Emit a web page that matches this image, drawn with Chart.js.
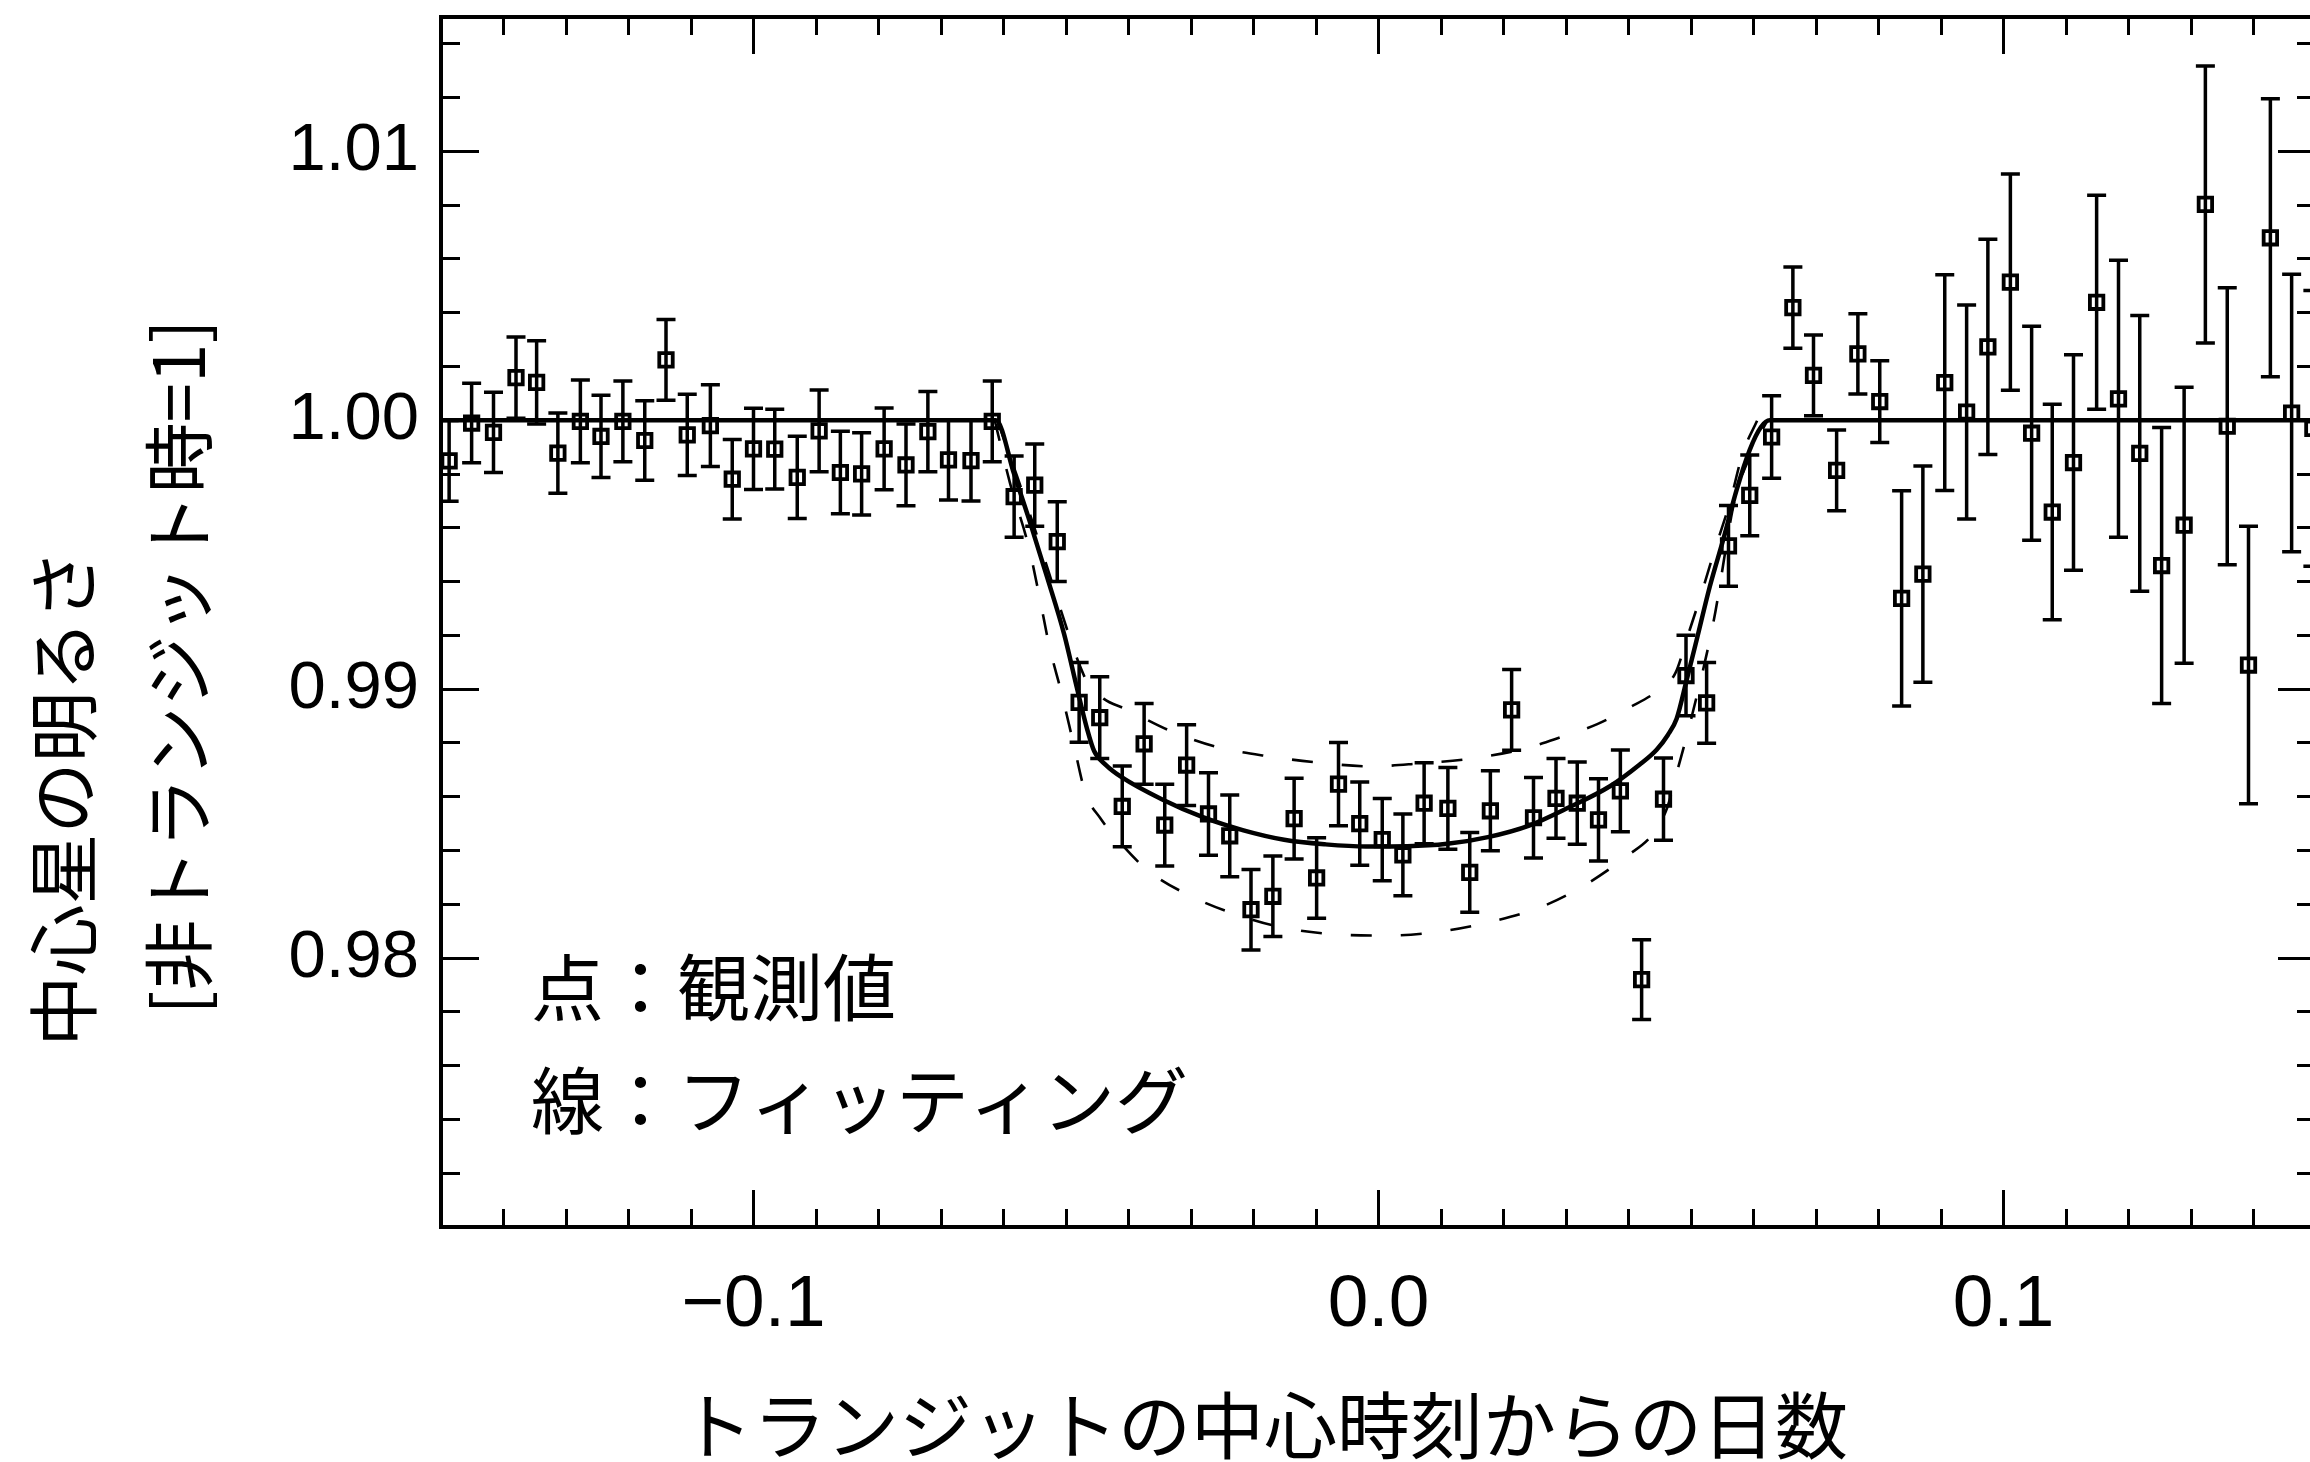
<!DOCTYPE html>
<html lang="ja">
<head>
<meta charset="utf-8">
<script src="https://cdn.jsdelivr.net/npm/chart.js@4/dist/chart.umd.min.js"></script>
<style>
  html, body { margin: 0; padding: 0; background: #fff; overflow: hidden; }
  #wrap { position: relative; width: 2330px; height: 1462px; }
</style>
</head>
<body>
<div id="wrap"><canvas id="lc"></canvas></div>
<script>
// ---- observed relative brightness (days from mid-transit) ----
const obsX = [
  -0.1487, -0.1451, -0.1416, -0.1380, -0.1347, -0.1313, -0.1277, -0.1244, -0.1209, -0.1174,
  -0.1140, -0.1106, -0.1069, -0.1034, -0.1000, -0.0966, -0.0930, -0.0895, -0.0861, -0.0827,
  -0.0791, -0.0756, -0.0721, -0.0688, -0.0652, -0.0618, -0.0583, -0.0550, -0.0514, -0.0479,
  -0.0446, -0.0410, -0.0375, -0.0342, -0.0307, -0.0272, -0.0238, -0.0204, -0.0169, -0.0135,
  -0.0099, -0.0064, -0.0030,  0.0006,  0.0039,  0.0073,  0.0111,  0.0146,  0.0179,  0.0213,
   0.0248,  0.0284,  0.0318,  0.0352,  0.0387,  0.0421,  0.0456,  0.0492,  0.0525,  0.0560,
   0.0594,  0.0629,  0.0663,  0.0696,  0.0733,  0.0767,  0.0802,  0.0837,  0.0871,  0.0906,
   0.0941,  0.0975,  0.1011,  0.1045,  0.1078,  0.1112,  0.1149,  0.1184,  0.1218,  0.1253,
   0.1289,  0.1323,  0.1358,  0.1392,  0.1427,  0.1461,  0.1495
];
const obsY = [
  0.99849, 0.99990, 0.99955, 1.00159, 1.00141, 0.99878, 0.99996, 0.99940, 0.99996, 0.99925,
  1.00225, 0.99946, 0.99980, 0.99781, 0.99894, 0.99893, 0.99788, 0.99961, 0.99806, 0.99801,
  0.99894, 0.99834, 0.99958, 0.99853, 0.99850, 0.99996, 0.99716, 0.99759, 0.99549, 0.98951,
  0.98894, 0.98564, 0.98797, 0.98495, 0.98718, 0.98536, 0.98455, 0.98180, 0.98230, 0.98519,
  0.98298, 0.98647, 0.98500, 0.98441, 0.98384, 0.98576, 0.98557, 0.98319, 0.98548, 0.98923,
  0.98522, 0.98594, 0.98576, 0.98514, 0.98622, 0.97920, 0.98591, 0.99051, 0.98949, 0.99533,
  0.99721, 0.99938, 1.00419, 1.00167, 0.99814, 1.00247, 1.00070, 0.99338, 0.99428, 1.00140,
  1.00031, 1.00273, 1.00514, 0.99952, 0.99659, 0.99843, 1.00439, 1.00080, 0.99877, 0.99460,
  0.99610, 1.00803, 0.99978, 0.99090, 1.00679, 1.00027, 0.99970
];
const obsErr = [
  0.00150, 0.00148, 0.00149, 0.00151, 0.00155, 0.00149, 0.00154, 0.00153, 0.00150, 0.00148,
  0.00150, 0.00151, 0.00152, 0.00148, 0.00151, 0.00148, 0.00153, 0.00152, 0.00153, 0.00153,
  0.00152, 0.00152, 0.00149, 0.00149, 0.00150, 0.00150, 0.00151, 0.00153, 0.00148, 0.00148,
  0.00152, 0.00150, 0.00150, 0.00152, 0.00150, 0.00153, 0.00152, 0.00150, 0.00150, 0.00150,
  0.00150, 0.00155, 0.00155, 0.00153, 0.00152, 0.00151, 0.00152, 0.00148, 0.00149, 0.00150,
  0.00150, 0.00148, 0.00153, 0.00153, 0.00152, 0.00148, 0.00153, 0.00150, 0.00150, 0.00150,
  0.00150, 0.00153, 0.00151, 0.00150, 0.00150, 0.00149, 0.00152, 0.00400, 0.00402, 0.00401,
  0.00398, 0.00400, 0.00402, 0.00398, 0.00401, 0.00401, 0.00398, 0.00515, 0.00513, 0.00513,
  0.00513, 0.00515, 0.00515, 0.00516, 0.00517, 0.00516, 0.00513
];

// ---- best-fit transit model (solid) ----
const fitX = [
  -0.1500, -0.0612, -0.0583, -0.0557, -0.0530, -0.0503, -0.0482, -0.0466, -0.0455, -0.0436,
  -0.0411, -0.0346, -0.0281, -0.0216, -0.0151, -0.0085, -0.0020,  0.0046,  0.0110,  0.0175,
   0.0241,  0.0306,  0.0371,  0.0418,  0.0445,  0.0463,  0.0477,  0.0493,  0.0509,  0.0530,
   0.0552,  0.0573,  0.0594,  0.0612,  0.0626,  0.1500
];
const fitY = [
  1.00000, 1.00000, 0.99800, 0.99617, 0.99415, 0.99205, 0.99000, 0.98850, 0.98770, 0.98718,
  0.98673, 0.98590, 0.98524, 0.98475, 0.98440, 0.98423, 0.98415, 0.98416, 0.98425, 0.98450,
  0.98493, 0.98562, 0.98640, 0.98720, 0.98775, 0.98830, 0.98890, 0.99034, 0.99183, 0.99381,
  0.99560, 0.99741, 0.99890, 0.99975, 1.00000, 1.00000
];

// ---- shallower model (dashed) ----
const fitHighX = [
  -0.0610, -0.0578, -0.0545, -0.0520, -0.0497, -0.0480, -0.0466, -0.0440, -0.0405, -0.0333,
  -0.0258, -0.0175, -0.0096, -0.0012,  0.0065,  0.0148,  0.0230,  0.0292,  0.0350,  0.0400,
   0.0450,  0.0475,  0.0495,  0.0514,  0.0538,  0.0562,  0.0583,  0.0606
];
const fitHighY = [
  1.00000, 0.99790, 0.99561, 0.99380, 0.99213, 0.99100, 0.99027, 0.98965, 0.98927, 0.98845,
  0.98785, 0.98750, 0.98727, 0.98713, 0.98724, 0.98742, 0.98777, 0.98822, 0.98870, 0.98930,
  0.99000, 0.99060, 0.99200, 0.99336, 0.99518, 0.99693, 0.99879, 1.00000
];

// ---- deeper model (dashed) ----
const fitLowX = [
  -0.0614, -0.0590, -0.0559, -0.0543, -0.0527, -0.0507, -0.0488, -0.0469, -0.0445, -0.0420,
  -0.0369, -0.0299, -0.0231, -0.0150, -0.0066,  0.0019,  0.0100,  0.0182,  0.0259,  0.0329,
   0.0399,  0.0440,  0.0462,  0.0478,  0.0499,  0.0536,  0.0570,  0.0599,  0.0622
];
const fitLowY = [
  1.00000, 0.99770, 0.99524, 0.99350, 0.99164, 0.98984, 0.98798, 0.98614, 0.98520, 0.98447,
  0.98326, 0.98229, 0.98165, 0.98112, 0.98088, 0.98084, 0.98099, 0.98136, 0.98189, 0.98270,
  0.98382, 0.98465, 0.98560, 0.98696, 0.98878, 0.99251, 0.99704, 0.99890, 1.00000
];

// ---- axes ----
const xRange = [-0.15, 0.15];
const yRange = [0.97, 1.015];
const xMajorTicks = [-0.1, 0.0, 0.1];
const yMajorTicks = [0.98, 0.99, 1.00, 1.01];
const xMinorStep = 0.01;
const yMinorStep = 0.002;

// ---- texts ----
const xTitle = 'トランジットの中心時刻からの日数';
const yTitleLines = ['中心星の明るさ', '[非トランジット時=1]'];
const noteLines = ['点：観測値', '線：フィッティング'];

// ---- layout ----
const W = 2330, H = 1462;
const AREA = { left: 441, right: 2316, top: 17, bottom: 1227 };
const CJK = '"Noto Sans CJK JP", sans-serif';
const NUM = '"Liberation Sans", Arial, sans-serif';

const toPts = (xs, ys) => xs.map((x, i) => ({ x, y: ys[i] }));
const fmtX = v => (v < -1e-9 ? '\u2212' : '') + Math.abs(v).toFixed(1);
const fmtY = v => v.toFixed(2);

const frame = { display: true, width: 4, color: '#000' };
const inwardTicks = len => ({
  display: true, drawOnChartArea: false, drawTicks: true,
  tickLength: -len, tickWidth: 3, tickColor: '#000', color: '#000'
});
const fixedTicks = list => scale => { scale.ticks = list.map(v => ({ value: v })); };
// fix a scale's box size and drop the extra room reserved for overhanging labels
const sized = (w, h) => scale => {
  if (w !== null) scale.width = w;
  if (h !== null) scale.height = h;
  scale.paddingTop = 0; scale.paddingBottom = 0;
  scale.paddingLeft = 0; scale.paddingRight = 0;
};

// error bars with caps, placed through the chart's own scales
const errorBars = {
  id: 'errorBars',
  afterDatasetsDraw(chart) {
    const { ctx, chartArea, scales } = chart;
    const sx = scales.x, sy = scales.y;
    const cap = 9.5;
    ctx.save();
    ctx.beginPath();
    ctx.rect(chartArea.left, chartArea.top, chartArea.right - chartArea.left, chartArea.bottom - chartArea.top);
    ctx.clip();
    ctx.strokeStyle = '#000';
    ctx.lineWidth = 3.5;
    ctx.lineCap = 'butt';
    ctx.beginPath();
    obsX.forEach((xv, i) => {
      const px = sx.getPixelForValue(xv);
      const top = sy.getPixelForValue(obsY[i] + obsErr[i]);
      const bot = sy.getPixelForValue(obsY[i] - obsErr[i]);
      ctx.moveTo(px, top); ctx.lineTo(px, bot);
      ctx.moveTo(px - cap, top); ctx.lineTo(px + cap, top);
      ctx.moveTo(px - cap, bot); ctx.lineTo(px + cap, bot);
    });
    ctx.stroke();
    ctx.restore();
  }
};

// axis titles and the note inside the plot
const labels = {
  id: 'labels',
  afterDraw(chart) {
    const ctx = chart.ctx;
    ctx.save();
    ctx.fillStyle = '#000';
    ctx.textBaseline = 'middle';

    ctx.font = '73px ' + CJK;
    ctx.textAlign = 'center';
    ctx.fillText(xTitle, 1264, 1425);

    ctx.font = '71px ' + CJK;
    [[63, 798], [178, 667]].forEach(([cx, cy], i) => {
      ctx.save();
      ctx.translate(cx, cy);
      ctx.rotate(-Math.PI / 2);
      ctx.fillText(yTitleLines[i], 0, 0);
      ctx.restore();
    });

    ctx.font = '73px ' + CJK;
    ctx.textAlign = 'left';
    ctx.fillText(noteLines[0], 531, 987);
    ctx.fillText(noteLines[1], 531, 1100);
    ctx.restore();
  }
};

new Chart(document.getElementById('lc'), {
  data: {
    datasets: [
      {
        type: 'scatter', label: 'obs', data: toPts(obsX, obsY),
        xAxisID: 'x', yAxisID: 'y',
        pointStyle: 'rect', pointRadius: 9.5, pointBorderWidth: 3.8,
        borderColor: '#000', backgroundColor: 'rgba(0,0,0,0)',
        pointBackgroundColor: 'rgba(0,0,0,0)', pointBorderColor: '#000'
      },
      {
        type: 'line', label: 'fit', data: toPts(fitX, fitY),
        xAxisID: 'x', yAxisID: 'y',
        borderColor: '#000', borderWidth: 4.5, pointRadius: 0,
        cubicInterpolationMode: 'monotone', fill: false
      },
      {
        type: 'line', label: 'fitHigh', data: toPts(fitHighX, fitHighY),
        xAxisID: 'x', yAxisID: 'y',
        borderColor: '#000', borderWidth: 2.6, borderDash: [21, 29], pointRadius: 0,
        cubicInterpolationMode: 'monotone', fill: false
      },
      {
        type: 'line', label: 'fitLow', data: toPts(fitLowX, fitLowY),
        xAxisID: 'x', yAxisID: 'y',
        borderColor: '#000', borderWidth: 2.6, borderDash: [21, 29], pointRadius: 0,
        cubicInterpolationMode: 'monotone', fill: false
      }
    ]
  },
  options: {
    responsive: true,
    maintainAspectRatio: false,
    animation: false,
    devicePixelRatio: 1,
    layout: { padding: { left: 0, top: AREA.top, right: W - AREA.right, bottom: 0 } },
    plugins: { legend: { display: false }, tooltip: { enabled: false } },
    scales: {
      x: {
        type: 'linear', position: 'bottom', weight: 0, min: xRange[0], max: xRange[1],
        grid: inwardTicks(18), border: frame,
        ticks: { display: false, stepSize: xMinorStep, autoSkip: false, includeBounds: false },
        afterFit: sized(null, 0)
      },
      xMajor: {
        type: 'linear', position: 'bottom', weight: 1, min: xRange[0], max: xRange[1],
        grid: inwardTicks(37), border: frame,
        afterBuildTicks: fixedTicks(xMajorTicks),
        ticks: {
          display: true, autoSkip: false, maxRotation: 0, minRotation: 0, padding: 72,
          color: '#000', font: { family: NUM, size: 73 }, callback: v => fmtX(v)
        },
        afterFit: sized(null, H - AREA.bottom)
      },
      xTop: {
        type: 'linear', position: 'top', weight: 0, min: xRange[0], max: xRange[1],
        grid: inwardTicks(18), border: frame,
        ticks: { display: false, stepSize: xMinorStep, autoSkip: false, includeBounds: false },
        afterFit: sized(null, 0)
      },
      xTopMajor: {
        type: 'linear', position: 'top', weight: 1, min: xRange[0], max: xRange[1],
        grid: inwardTicks(37), border: frame,
        afterBuildTicks: fixedTicks(xMajorTicks),
        ticks: { display: false, autoSkip: false },
        afterFit: sized(null, 0)
      },
      y: {
        type: 'linear', position: 'left', weight: 0, min: yRange[0], max: yRange[1],
        grid: inwardTicks(19), border: frame,
        ticks: { display: false, stepSize: yMinorStep, autoSkip: false, includeBounds: false },
        afterFit: sized(0, null)
      },
      yMajor: {
        type: 'linear', position: 'left', weight: 1, min: yRange[0], max: yRange[1],
        grid: inwardTicks(38), border: frame,
        afterBuildTicks: fixedTicks(yMajorTicks),
        ticks: {
          display: true, autoSkip: false, padding: 60,
          color: '#000', font: { family: NUM, size: 67 }, callback: v => fmtY(v)
        },
        afterFit: sized(AREA.left, null)
      },
      yRight: {
        type: 'linear', position: 'right', weight: 0, min: yRange[0], max: yRange[1],
        grid: inwardTicks(19), border: frame,
        ticks: { display: false, stepSize: yMinorStep, autoSkip: false, includeBounds: false },
        afterFit: sized(0, null)
      },
      yRightMajor: {
        type: 'linear', position: 'right', weight: 1, min: yRange[0], max: yRange[1],
        grid: inwardTicks(38), border: frame,
        afterBuildTicks: fixedTicks(yMajorTicks),
        ticks: { display: false, autoSkip: false },
        afterFit: sized(0, null)
      }
    }
  },
  plugins: [errorBars, labels]
});
</script>
</body>
</html>
